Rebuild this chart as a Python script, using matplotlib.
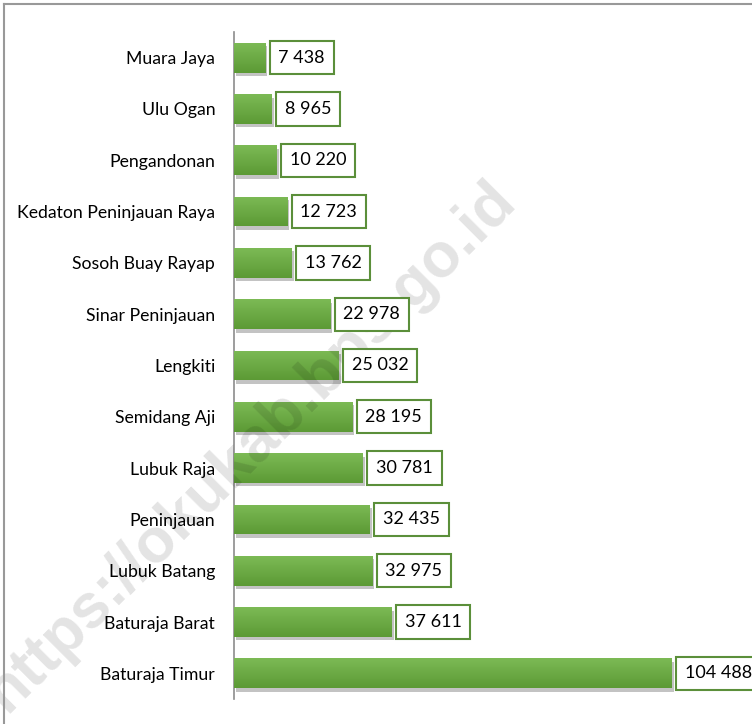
import numpy as np
import matplotlib
matplotlib.use('Agg')
import matplotlib.pyplot as plt
from matplotlib import patheffects
from matplotlib.colors import LinearSegmentedColormap
from matplotlib.lines import Line2D

plt.rcParams['font.family'] = ['Lato', 'DejaVu Sans']

# data
districts = ['Muara Jaya', 'Ulu Ogan', 'Pengandonan', 'Kedaton Peninjauan Raya',
             'Sosoh Buay Rayap', 'Sinar Peninjauan', 'Lengkiti', 'Semidang Aji',
             'Lubuk Raja', 'Peninjauan', 'Lubuk Batang', 'Baturaja Barat',
             'Baturaja Timur']
population = [7438, 8965, 10220, 12723, 13762, 22978, 25032, 28195,
              30781, 32435, 32975, 37611, 104488]

W, H = 752, 724
fig = plt.figure(figsize=(W / 100, H / 100), dpi=100)
ax = fig.add_axes([234 / W, 1 - 699 / H, (745 - 234) / W, (699 - 32) / H])

y = np.arange(len(districts))[::-1]
bar_h = 0.58
bars = ax.barh(y, population, height=bar_h, color='#68a843', zorder=2)

# green gradient + soft shadow like the original
cmap = LinearSegmentedColormap.from_list('grn', ['#7cba55', '#5c9a35'])
grad = np.linspace(0, 1, 60).reshape(-1, 1)
for b in bars:
    b.set_path_effects([patheffects.SimplePatchShadow(offset=(1.5, -2.5), shadow_rgbFace='#555555', alpha=0.35),
                        patheffects.Normal()])
    x0, y0 = b.get_xy()
    im = ax.imshow(grad, extent=(x0, x0 + b.get_width(), y0, y0 + b.get_height()),
                   aspect='auto', cmap=cmap, origin='upper', zorder=3)
    im.set_clip_path(b)

# value labels in boxes
for v, yi in zip(population, y):
    ax.annotate(f"{v:,}".replace(',', ' '), xy=(v, yi), xytext=(9.5, 0),
                textcoords='offset points', ha='left', va='center', fontsize=13,
                bbox=dict(boxstyle='square,pad=0.48', fc='white', ec='#5b8f3a', lw=1.5),
                zorder=6, annotation_clip=False)

ax.set_xlim(0, 122000)
ax.set_ylim(-0.5, len(districts) - 0.5)
ax.set_xticks([])
ax.set_yticks(y, districts)
ax.tick_params(axis='y', length=0, pad=13.5, labelsize=12.7)
for s in ['top', 'right', 'bottom']:
    ax.spines[s].set_visible(False)
ax.spines['left'].set_color('#8c8c8c')
ax.spines['left'].set_linewidth(1.2)

# watermark
ax.text(250 / W, 1 - 446 / H, 'https://okukab.bps.go.id', transform=fig.transFigure,
        rotation=45, ha='center', va='center', fontsize=45, fontweight='bold',
        family='Liberation Sans', color='black', alpha=0.11, zorder=4, clip_on=False)

# outer frame (top + left visible)
fig.add_artist(Line2D([4 / W, 4 / W], [0, 1 - 4 / H], transform=fig.transFigure, color='#999999', lw=1.5))
fig.add_artist(Line2D([4 / W, 1], [1 - 4 / H, 1 - 4 / H], transform=fig.transFigure, color='#999999', lw=1.5))

fig.savefig('out.png', dpi=100)
